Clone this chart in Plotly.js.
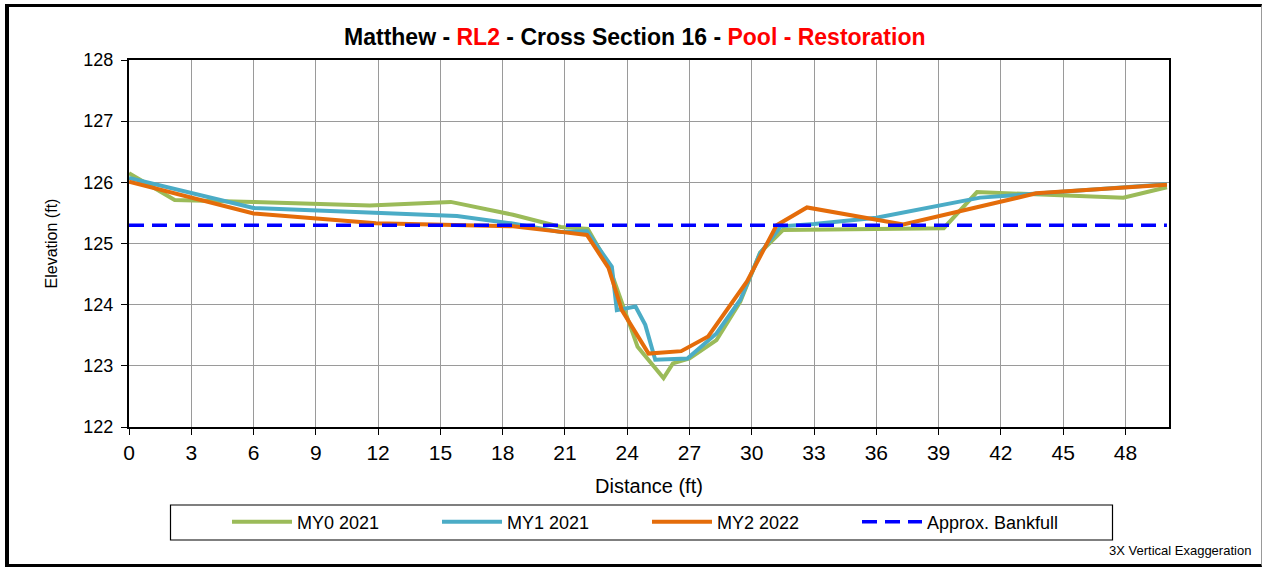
<!DOCTYPE html>
<html>
<head>
<meta charset="utf-8">
<script src="https://cdn.plot.ly/plotly-3.0.1.min.js"></script>
<style>
  html, body { margin: 0; padding: 0; background: #fff; }
  #wrap { position: relative; width: 1262px; height: 567px; }
  #chart { position: absolute; left: 0; top: 0; width: 1262px; height: 567px; }
  #frame { position: absolute; left: 5px; top: 4px; width: 1257px; height: 563px; box-sizing: border-box;
           border-left: 4px solid #000; border-top: 3px solid #000; border-bottom: 3px solid #000;
           border-right: 1px solid #999; pointer-events: none; }
</style>
</head>
<body>
<div id="wrap">
  <div id="chart"></div>
  <div id="frame"></div>
</div>
<script>
// ---- data ----
const my0X = [0, 2.2, 6.0, 11.6, 15.5, 18.5, 20.8, 22.1, 23.1, 24.5, 25.75, 26.2, 27.0, 28.3, 29.45, 30.4, 31.5, 39.25, 40.85, 47.9, 50];
const my0Y = [126.15, 125.71, 125.68, 125.62, 125.68, 125.47, 125.27, 125.24, 124.65, 123.31, 122.80, 123.04, 123.12, 123.42, 124.05, 124.85, 125.22, 125.25, 125.84, 125.75, 125.92];

const my1X = [0, 6.0, 15.8, 18.4, 20.8, 22.06, 23.26, 23.5, 24.4, 24.87, 25.35, 26.9, 28.3, 29.45, 30.4, 31.4, 33.0, 36.0, 41.0, 43.7, 50];
const my1Y = [126.07, 125.58, 125.45, 125.33, 125.19, 125.2, 124.62, 123.91, 123.97, 123.67, 123.10, 123.12, 123.53, 124.08, 124.84, 125.28, 125.32, 125.42, 125.75, 125.82, 125.97];

const my2X = [0, 6.0, 11.9, 18.5, 20.8, 22.06, 23.1, 23.74, 25.03, 26.6, 27.9, 29.77, 31.2, 32.66, 37.3, 43.7, 50];
const my2Y = [126.01, 125.49, 125.33, 125.28, 125.19, 125.14, 124.6, 123.91, 123.2, 123.24, 123.48, 124.38, 125.30, 125.59, 125.31, 125.82, 125.96];

const bankfullX = [0, 50];
const bankfullY = [125.3, 125.3];

const seriesNames = ['MY0 2021', 'MY1 2021', 'MY2 2022', 'Approx. Bankfull'];
const xTicks = [0, 3, 6, 9, 12, 15, 18, 21, 24, 27, 30, 33, 36, 39, 42, 45, 48];
const yTicks = [122, 123, 124, 125, 126, 127, 128];

// ---- chart ----
const FONT = '"Liberation Sans", Arial, sans-serif';

const traces = [
  { x: my0X, y: my0Y, name: seriesNames[0], mode: 'lines', line: { color: '#9BBB59', width: 4 } },
  { x: my1X, y: my1Y, name: seriesNames[1], mode: 'lines', line: { color: '#4BACC6', width: 4 } },
  { x: my2X, y: my2Y, name: seriesNames[2], mode: 'lines', line: { color: '#E46C0A', width: 4 } },
  { x: bankfullX, y: bankfullY, name: seriesNames[3], mode: 'lines', line: { color: '#0000FF', width: 3.5, dash: '15px,8px' } }
];

const L = 129, R = 1169, T = 60, B = 427, W = 1262, H = 567;
const pw = R - L, ph = B - T;
const px2x = p => (p - L) / pw;
const py2y = p => (B - p) / ph;

const layout = {
  width: W, height: H,
  margin: { l: L, r: W - R, t: T, b: H - B, pad: 0 },
  paper_bgcolor: '#fff', plot_bgcolor: '#fff',
  font: { family: FONT, color: '#000' },
  title: {
    text: '<b>Matthew - <span style="color:#FF0000">RL2</span> - Cross Section 16 - <span style="color:#FF0000">Pool - Restoration</span></b>',
    font: { family: FONT, size: 23, color: '#000' },
    xref: 'container', x: 0.503, xanchor: 'center',
    yref: 'container', y: 1 - 37 / H, yanchor: 'middle'
  },
  xaxis: {
    range: [0, 50.1], tickmode: 'array', tickvals: xTicks, ticktext: xTicks.map(String),
    showgrid: true, gridcolor: '#9a9a9a', gridwidth: 1, zeroline: false,
    showline: true, linecolor: '#000', linewidth: 2, mirror: true,
    ticks: 'outside', ticklen: 6, tickwidth: 1, tickcolor: '#000',
    tickfont: { family: FONT, size: 21, color: '#000' },
    title: { text: 'Distance (ft)', font: { family: FONT, size: 20, color: '#000' }, standoff: 16 }
  },
  yaxis: {
    range: [122, 128], tickmode: 'array', tickvals: yTicks, ticktext: yTicks.map(String),
    showgrid: true, gridcolor: '#9a9a9a', gridwidth: 1, zeroline: false,
    showline: true, linecolor: '#000', linewidth: 2, mirror: true,
    ticks: 'outside', ticklen: 6, tickwidth: 1, tickcolor: '#000', ticklabelstandoff: 4,
    tickfont: { family: FONT, size: 18, color: '#000' },
    title: { text: 'Elevation (ft)', font: { family: FONT, size: 16, color: '#000' }, standoff: 22 }
  },
  showlegend: true,
  legend: {
    orientation: 'h', xref: 'paper', yref: 'paper',
    x: px2x(227), xanchor: 'left', y: py2y(522), yanchor: 'middle',
    font: { family: FONT, size: 18, color: '#000' },
    itemwidth: 60, entrywidth: 135, entrywidthmode: 'pixels',
    bgcolor: 'rgba(0,0,0,0)', borderwidth: 0, traceorder: 'normal'
  },
  shapes: [
    { type: 'rect', xref: 'paper', yref: 'paper', x0: px2x(170.5), x1: px2x(1112.5), y0: py2y(505), y1: py2y(540),
      line: { color: '#000', width: 1.2 }, fillcolor: 'rgba(0,0,0,0)', layer: 'below' }
  ],
  annotations: [
    { text: '3X Vertical Exaggeration', xref: 'paper', yref: 'paper', x: px2x(1253), y: py2y(550),
      xanchor: 'right', yanchor: 'middle', showarrow: false, font: { family: FONT, size: 13, color: '#000' } }
  ]
};

Plotly.newPlot('chart', traces, layout, { staticPlot: true, displayModeBar: false });
</script>
</body>
</html>
